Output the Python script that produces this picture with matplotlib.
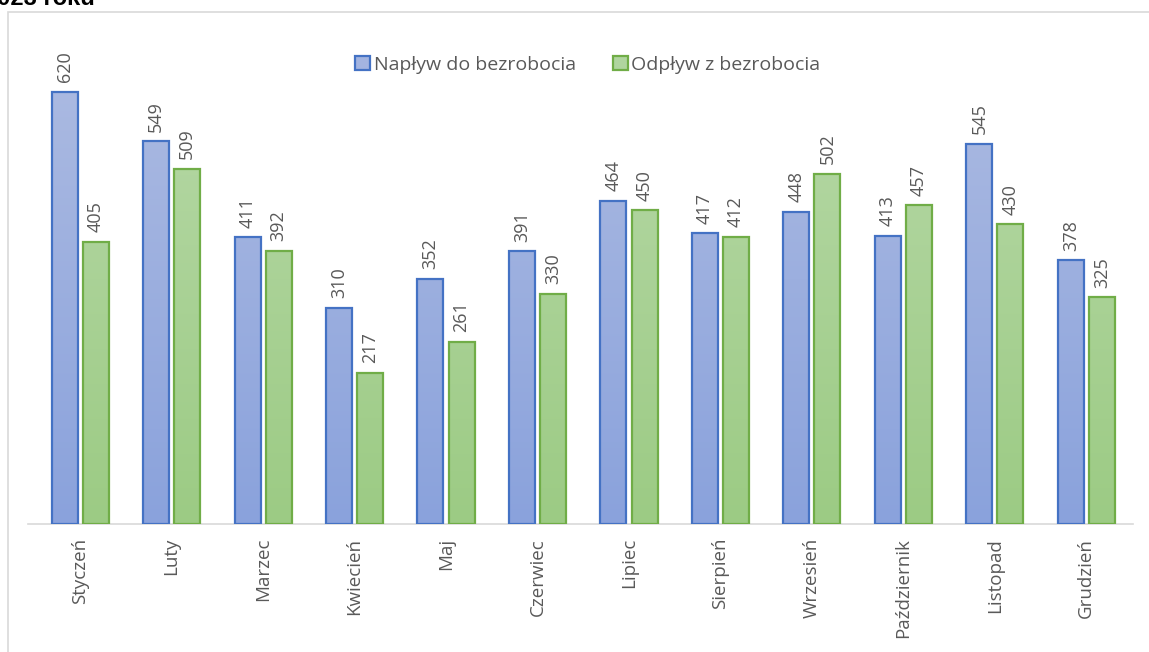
import matplotlib.pyplot as plt
import numpy as np
from matplotlib.colors import LinearSegmentedColormap
from matplotlib.patches import Rectangle

# dane
months = ['Styczeń', 'Luty', 'Marzec', 'Kwiecień', 'Maj', 'Czerwiec', 'Lipiec',
          'Sierpień', 'Wrzesień', 'Październik', 'Listopad', 'Grudzień']
inflow = [620, 549, 411, 310, 352, 391, 464, 417, 448, 413, 545, 378]
outflow = [405, 509, 392, 217, 261, 330, 450, 412, 502, 457, 430, 325]
labels = ['Napływ do bezrobocia', 'Odpływ z bezrobocia']

plt.rcParams['font.family'] = ['Open Sans', 'DejaVu Sans']
grey = '#595959'

W, H = 1149, 652
fig = plt.figure(figsize=(W / 100, H / 100), dpi=100)

# ramka wykresu
fig.patches.append(Rectangle((8 / W, -0.01), 1.0, (H - 12) / H + 0.01, transform=fig.transFigure,
                             fill=False, ec='#d9d9d9', lw=1.2))
# ucięty tytuł (w oryginale widać tylko dolną część)
fig.text(-0.014, 1.003, '2023 roku', fontsize=17, fontweight='bold', family='Liberation Sans',
         va='center', ha='left', color='black')

ax = fig.add_axes([28 / W, (H - 524) / H, (1133 - 28) / W, (524 - 36) / H])

blue_cmap = LinearSegmentedColormap.from_list('b', ['#aebce2', '#8aa2dc'])
green_cmap = LinearSegmentedColormap.from_list('g', ['#b8d9a9', '#9ccb84'])

x = np.arange(len(months))
bw = 0.284
off = 0.17
ymax = 700

def gradient_bars(xs, vals, cmap, edge):
    bars = ax.bar(xs, vals, width=bw, color='none', edgecolor=edge, linewidth=1.6, zorder=3)
    grad = np.linspace(0, 1, 256).reshape(-1, 1)
    for b in bars:
        x0, w = b.get_x(), b.get_width()
        im = ax.imshow(grad, cmap=cmap, aspect='auto', extent=(x0, x0 + w, 0, ymax),
                       origin='upper', zorder=2)
        im.set_clip_path(b)
    return bars

b1 = gradient_bars(x - off, inflow, blue_cmap, '#4472c4')
b2 = gradient_bars(x + off, outflow, green_cmap, '#70ad47')

for xs, vals in ((x - off, inflow), (x + off, outflow)):
    for xi, v in zip(xs, vals):
        ax.annotate(str(v), (xi, v), xytext=(0, 7), textcoords='offset points',
                    rotation=90, ha='center', va='bottom', fontsize=13, color=grey)

ax.set_xlim(-0.57, 11.51)
ax.set_ylim(0, ymax)
ax.set_xticks(x)
ax.set_xticklabels(months, rotation=90, fontsize=13.5, color=grey)
ax.tick_params(axis='x', length=0, pad=10)
ax.set_yticks([])
for s in ['top', 'right', 'left']:
    ax.spines[s].set_visible(False)
ax.spines['bottom'].set_color('#d9d9d9')
ax.spines['bottom'].set_linewidth(1.2)

h1 = Rectangle((0, 0), 1, 1, fc='#a3b4e0', ec='#4472c4', lw=1.6)
h2 = Rectangle((0, 0), 1, 1, fc='#b0d59f', ec='#70ad47', lw=1.6)
leg = fig.legend([h1, h2], labels, loc='center', bbox_to_anchor=(588 / W, (H - 65) / H),
                 ncol=2, frameon=False, fontsize=14, handlelength=0.75, handleheight=0.75,
                 handletextpad=0.2, columnspacing=1.9, labelcolor=grey)

fig.savefig('out.png', dpi=100)
